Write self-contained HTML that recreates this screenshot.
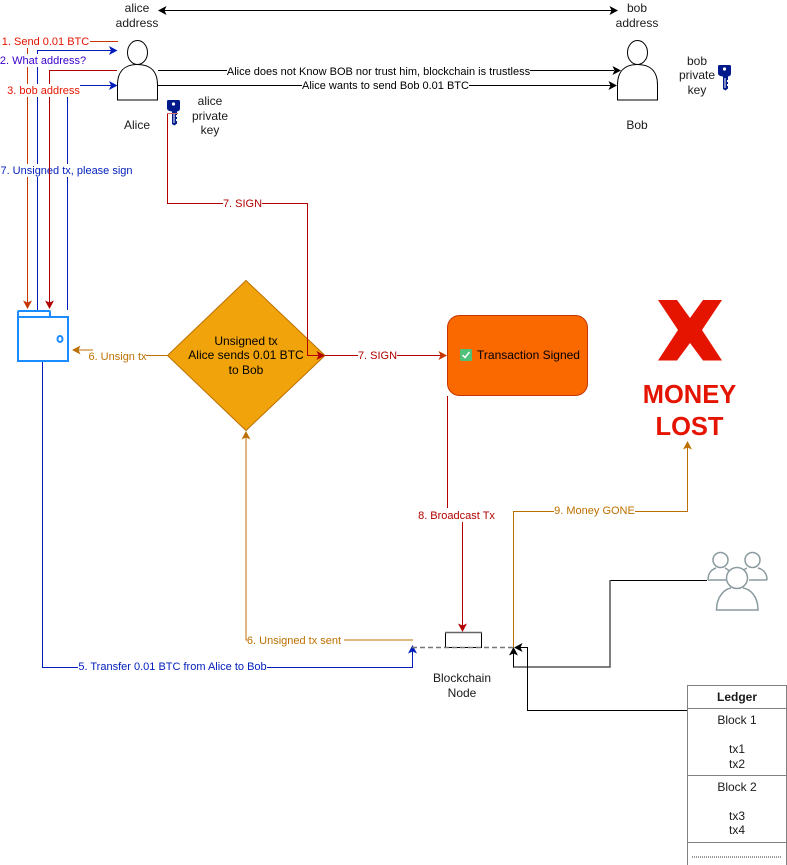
<!DOCTYPE html>
<html><head><meta charset="utf-8"><style>
html,body{margin:0;padding:0;background:#fff;width:787px;height:865px;overflow:hidden}
svg{display:block;font-family:"Liberation Sans",Arial,sans-serif}
.l{font-size:11px;text-anchor:middle}
.t{font-size:12px;text-anchor:middle;fill:#1a1a1a}
.e{fill:none;stroke-width:1}
</style></head><body>
<svg width="787" height="865" viewBox="0 0 787 865" xmlns="http://www.w3.org/2000/svg">
<defs>
<g id="ah"><path d="M0,0 L-8.500,-4.500 L-6.500,0 L-8.500,4.500Z"/></g>
<g id="key"><path d="M0,1.500 Q0,0 1.500,0 H11.500 Q13,0 13,1.500 V8.500 Q13,11 10,11.500 V15 H9 V17 H10 V19 H9 V21 H10 V23.500 L7.500,25.500 L5,24 V11.500 Q0,11 0,8.500Z" fill="#001a8c"/><circle cx="6.500" cy="4" r="1.600" fill="#fff"/><path d="M7 13V23" stroke="#fff" stroke-width="1"/></g>
</defs>

<!-- top arrow -->
<path class="e" d="M160 10.500H616" stroke="#000"/>
<use href="#ah" transform="translate(618,10.500)"/>
<use href="#ah" transform="translate(158,10.500) rotate(180)"/>
<text class="t" x="137" y="12">alice</text><text class="t" x="137" y="27">address</text>
<text class="t" x="637" y="12">bob</text><text class="t" x="637" y="27">address</text>

<!-- actors -->
<g fill="#fff" stroke="#000" stroke-width="1">
<path d="M117.500 100V85C117.500 71 125 64.500 137.500 64.500C150 64.500 157.500 71 157.500 85V100Z"/>
<ellipse cx="137.500" cy="52.500" rx="10" ry="12"/>
<path d="M617.500 100V85C617.500 71 625 64.500 637.500 64.500C650 64.500 657.500 71 657.500 85V100Z"/>
<ellipse cx="637.500" cy="52.500" rx="10" ry="12"/>
</g>
<text class="t" x="137" y="129">Alice</text>
<text class="t" x="637" y="129">Bob</text>

<!-- alice to bob -->
<path class="e" d="M158 70.500H614M158 85.500H612" stroke="#000"/>
<use href="#ah" transform="translate(621,70.500)"/>
<use href="#ah" transform="translate(617,85.500)"/>
<rect x="227" y="64" width="303" height="13" fill="#fff"/>
<text class="l" x="378.500" y="75" fill="#000">Alice does not Know BOB nor trust him, blockchain is trustless</text>
<rect x="302" y="79" width="167" height="13" fill="#fff"/>
<text class="l" x="385.500" y="89" fill="#000">Alice wants to send Bob 0.01 BTC</text>

<!-- keys -->
<use href="#key" transform="translate(167,100)"/>
<use href="#key" transform="translate(718,65)"/>
<text class="t" x="210" y="105">alice</text><text class="t" x="210" y="120">private</text><text class="t" x="210" y="134">key</text>
<text class="t" x="697" y="65">bob</text><text class="t" x="697" y="79">private</text><text class="t" x="697" y="94">key</text>

<!-- diamond -->
<path d="M246 280.500L325 355.500L246 430.500L167.500 355.500Z" fill="#f0a30a" stroke="#BD7000"/>
<text class="t" x="246" y="345" style="fill:#000">Unsigned tx</text>
<text class="t" x="246" y="359" style="fill:#000">Alice sends 0.01 BTC</text>
<text class="t" x="246" y="374" style="fill:#000">to Bob</text>

<!-- edge 1 -->
<path class="e" d="M118 41.500H27.500V303" stroke="#C73500"/>
<use href="#ah" transform="translate(27.500,309) rotate(90)" fill="#C73500"/>
<rect x="2" y="35" width="88" height="13" fill="#fff"/>
<text class="l" x="45.500" y="45" fill="#e51400">1. Send 0.01 BTC</text>

<!-- edge 2 -->
<path class="e" d="M37.500 310V50.500H112" stroke="#001DBC"/>
<use href="#ah" transform="translate(117.500,50.500)" fill="#001DBC"/>
<rect x="0" y="54" width="87" height="13" fill="#fff"/>
<text class="l" x="43" y="64" fill="#3700CC">2. What address?</text>

<!-- edge 7 blue -->
<path class="e" d="M67.500 310V85.500H112" stroke="#001DBC"/>
<use href="#ah" transform="translate(117.500,85.500)" fill="#001DBC"/>
<rect x="0" y="164" width="133" height="13" fill="#fff"/>
<text class="l" x="66.500" y="174" fill="#001DBC">7. Unsigned tx, please sign</text>

<!-- edge 3 -->
<path class="e" d="M117 70.500H49.500V303" stroke="#B20000"/>
<use href="#ah" transform="translate(49.500,309) rotate(90)" fill="#B20000"/>
<rect x="7" y="84" width="73" height="13" fill="#fff"/>
<text class="l" x="43.500" y="94" fill="#e51400">3. bob address</text>

<!-- wallet -->
<path d="M18 317V312Q18 311 19.500 311H49Q50 311 50 312.500V317" fill="#fff" stroke="#1a8cff" stroke-width="2"/>
<rect x="18" y="317" width="50" height="44" fill="#fff" stroke="#1a8cff" stroke-width="2"/>
<ellipse cx="60" cy="339" rx="2.500" ry="3" fill="#fff" stroke="#1a8cff" stroke-width="2"/>

<!-- edge 5 -->
<path class="e" d="M42.500 362V667.500H412.500V650" stroke="#001DBC"/>
<use href="#ah" transform="translate(412.500,645) rotate(-90)" fill="#001DBC"/>
<rect x="78" y="660" width="189" height="13" fill="#fff"/>
<text class="l" x="172.500" y="670" fill="#001DBC">5. Transfer 0.01 BTC from Alice to Bob</text>

<!-- edge 6 unsign -->
<path class="e" d="M167 355.500H146M93 350H77" stroke="#BD7000"/>
<use href="#ah" transform="translate(72,350) rotate(180)" fill="#BD7000"/>
<text class="l" x="117.500" y="360" fill="#BD7000">6. Unsign tx</text>

<!-- edge 6 sent -->
<path class="e" d="M413 640H344M247 640H246V436" stroke="#BD7000"/>
<use href="#ah" transform="translate(246,431) rotate(-90)" fill="#BD7000"/>
<text class="l" x="294" y="644" fill="#BD7000">6. Unsigned tx sent</text>

<!-- edge 7 sign -->
<path class="e" d="M167.500 113V203.500H307.500V355.500H320" stroke="#B20000"/>
<use href="#ah" transform="translate(325,355.500)" fill="#B20000"/>
<rect x="223" y="197" width="39" height="13" fill="#fff"/>
<text class="l" x="242.500" y="207" fill="#B20000">7. SIGN</text>
<path class="e" d="M325 355.500H442" stroke="#B20000"/>
<use href="#ah" transform="translate(447,355.500)" fill="#C73500"/>
<rect x="358" y="349" width="39" height="13" fill="#fff"/>
<text class="l" x="377.500" y="359" fill="#B20000">7. SIGN</text>
<path class="e" d="M167 113.500H178" stroke="#d06a6a"/>

<!-- signed -->
<rect x="447.500" y="315.500" width="140" height="80" rx="12" fill="#fa6800" stroke="#C73500"/>
<rect x="460" y="349" width="12" height="12" rx="1.500" fill="#4fc07a"/>
<path d="M462.500 355L465 357.500L469.500 352" fill="none" stroke="#fff" stroke-width="1.500"/>
<text class="t" x="528.500" y="359" style="fill:#000">Transaction Signed</text>

<!-- broadcast -->
<path class="e" d="M447.500 396V508M462.500 522V627" stroke="#B20000"/>
<use href="#ah" transform="translate(462.500,632) rotate(90)" fill="#B20000"/>
<text class="l" x="456.500" y="519" fill="#B20000">8. Broadcast Tx</text>

<!-- node -->
<rect x="445.500" y="632.500" width="36" height="15" fill="#fff" stroke="#000"/>
<path d="M445 632.500H482" fill="none" stroke="#666" stroke-width="1.500"/>
<path d="M412 647.500H513" fill="none" stroke="#777" stroke-width="1.500" stroke-dasharray="5 3"/>
<text class="t" x="462" y="682">Blockchain</text><text class="t" x="462" y="697">Node</text>

<!-- money -->
<path class="e" d="M513.500 647V511.500H687.500V446" stroke="#BD7000"/>
<use href="#ah" transform="translate(687.500,441) rotate(-90)" fill="#BD7000"/>
<rect x="554" y="504" width="81" height="13" fill="#fff"/>
<text class="l" x="594.500" y="514" fill="#BD7000">9. Money GONE</text>
<path d="M658 300H677L690 318L703 300H722L702 330L722 360.500H703L690 343L677 360.500H658L678 330Z" fill="#e51400"/>
<text x="689.500" y="403" text-anchor="middle" font-size="25.500" font-weight="bold" fill="#e51400">MONEY</text>
<text x="689.500" y="435" text-anchor="middle" font-size="25.500" font-weight="bold" fill="#e51400">LOST</text>

<!-- users edge -->
<path class="e" d="M707 580.500H610.500" stroke="#000"/>
<path d="M610 580V667H513.500" fill="none" stroke="#555" stroke-width="1.500"/>
<path class="e" d="M513.500 667.500V652" stroke="#000"/>
<use href="#ah" transform="translate(513.500,647) rotate(-90)"/>

<!-- ledger edge -->
<path class="e" d="M687 710.500H527.500V647.500H519" stroke="#000"/>
<use href="#ah" transform="translate(514,647.500) rotate(180)"/>

<!-- users -->
<g fill="none" stroke="#8a9a9f" stroke-width="1.500">
<circle cx="720.500" cy="560" r="7.500"/>
<path d="M708 580C708 572 713 569 716 568M725 568C727 569 729 570 731 573M708 580H726"/>
<circle cx="752.500" cy="560" r="7.500"/>
<path d="M767 580C767 572 762 569 758 568M747 568C745 569 743 570 742 572M749 580H767"/>
<circle cx="737" cy="578" r="10.500" fill="#fff"/>
<path d="M731 588C725 589 716.500 596 716.500 610H758C758 596 750 589 743 588"/>
</g>

<!-- ledger -->
<g fill="#fff" stroke="#808080">
<path d="M687.500 865V685.500H786.500V865"/>
<path d="M687.500 708.500H786.500M687.500 775.500H786.500M687.500 842.500H786.500"/>
</g>
<text class="t" x="737" y="701" font-weight="bold">Ledger</text>
<text class="t" x="737" y="724">Block 1</text>
<text class="t" x="737" y="753">tx1</text><text class="t" x="737" y="768">tx2</text>
<text class="t" x="737" y="791">Block 2</text>
<text class="t" x="737" y="820">tx3</text><text class="t" x="737" y="834">tx4</text>
<path d="M692 857H781" stroke="#333" stroke-width="1" stroke-dasharray="1 1" fill="none"/>
</svg>
</body></html>
